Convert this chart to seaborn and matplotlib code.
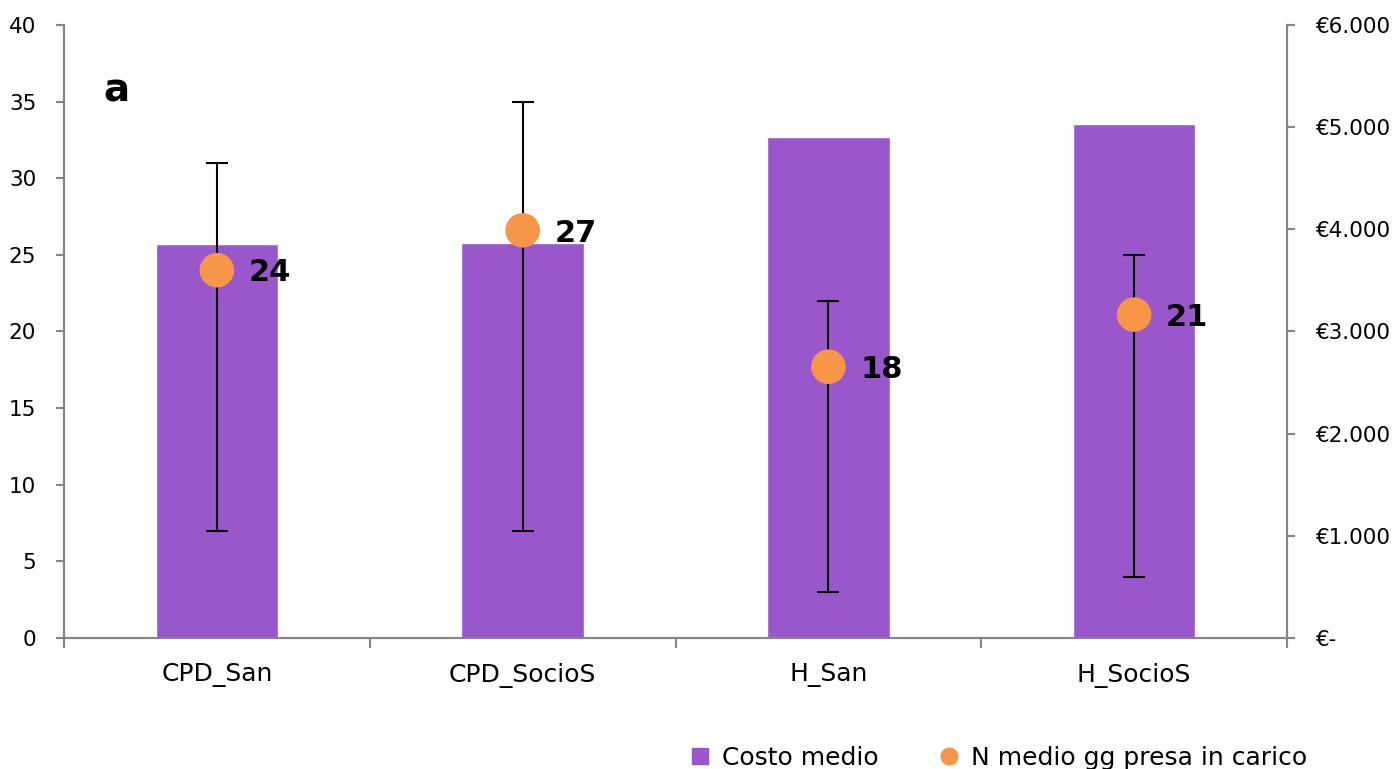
import matplotlib
matplotlib.use("Agg")
import matplotlib.pyplot as plt
import matplotlib.ticker as mticker
from matplotlib.lines import Line2D
import seaborn as sns
import numpy as np
import pandas as pd

categories = ["CPD_San", "CPD_SocioS", "H_San", "H_SocioS"]
costo_medio = [3860, 3870, 4900, 5030]
giorni_medi = [24.0, 26.6, 17.7, 21.1]
giorni_label = ["24", "27", "18", "21"]
giorni_min = [7, 7, 3, 4]
giorni_max = [31, 35, 22, 25]

PURPLE = "#9A57CC"
ORANGE = "#F79646"
GREY = "#868686"

sns.set_style("white")
plt.rcParams["font.family"] = ["DejaVu Sans"]
plt.rcParams["text.color"] = "black"
plt.rcParams["xtick.labelcolor"] = "black"
plt.rcParams["ytick.labelcolor"] = "black"

df = pd.DataFrame({"cat": categories, "costo": costo_medio})

fig = plt.figure(figsize=(13.97, 7.69), dpi=100)
ax = fig.add_axes([0.0458, 0.1704, 0.8755, 0.7971])

sns.barplot(data=df, x="cat", y="costo", color=PURPLE, width=0.4,
            saturation=1, ax=ax)
ax.set_xlabel("")
ax.set_ylabel("")

ax2 = ax.twinx()
# cost axis on the right, days axis on the left
ax.yaxis.tick_right()
ax2.yaxis.tick_left()

ax.set_ylim(0, 6000)
ax.set_xlim(-0.5, 3.5)
ax.yaxis.set_major_locator(mticker.MultipleLocator(1000))
ax.yaxis.set_major_formatter(mticker.FuncFormatter(
    lambda v, p: "€-" if v == 0 else "€{:,.0f}".format(v).replace(",", ".")))

x = np.arange(len(categories))
days = np.array(giorni_medi)
yerr = [days - np.array(giorni_min), np.array(giorni_max) - days]
ax2.errorbar(x, days, yerr=yerr, fmt="none", ecolor="black",
             elinewidth=1.5, capsize=8, capthick=1.5, zorder=2)
sns.scatterplot(x=x, y=days, ax=ax2, color=ORANGE, s=620,
                edgecolor="none", zorder=3, legend=False)
for xi, yi, lab in zip(x, days, giorni_label):
    ax2.annotate(lab, (xi, yi), xytext=(23, -2), textcoords="offset points",
                 ha="left", va="center", fontsize=22, fontweight="bold",
                 color="black")
ax2.set_ylim(0, 40)
ax2.yaxis.set_major_locator(mticker.MultipleLocator(5))
ax2.set_xlim(-0.5, 3.5)

# category ticks between groups
ax.set_xticks(x)
ax.set_xticklabels(categories, fontsize=18)
ax.set_xticks(np.arange(-0.5, 4.0, 1.0), minor=True)
ax.tick_params(axis="x", which="major", length=0, pad=18)
ax.tick_params(axis="x", which="minor", length=7, width=1.5, color=GREY,
               direction="out", bottom=True)
ax.tick_params(axis="y", which="major", length=6, width=1.5, color=GREY,
               direction="out", labelsize=15.5, pad=14, right=True, left=False,
               labelright=True, labelleft=False)
ax2.tick_params(axis="y", which="major", length=6, width=1.5, color=GREY,
                direction="out", labelsize=15.5, pad=14, left=True, right=False,
                labelleft=True, labelright=False)

for a in (ax, ax2):
    a.spines["top"].set_visible(False)
    for s in ("left", "right", "bottom"):
        a.spines[s].set_color(GREY)
        a.spines[s].set_linewidth(1.5)

ax2.text(0.032, 0.893, "a", transform=ax2.transAxes, fontsize=28,
         fontweight="bold", va="center", ha="left", color="black")

handles = [
    Line2D([], [], marker="s", linestyle="none", color=PURPLE, markersize=12),
    Line2D([], [], marker="o", linestyle="none", color=ORANGE, markersize=12),
]
fig.legend(handles, ["Costo medio", "N medio gg presa in carico"],
           loc="lower right", bbox_to_anchor=(0.952, -0.03), ncol=2,
           frameon=False, fontsize=18, handletextpad=-0.1, columnspacing=1.8)

fig.savefig("out.png", dpi=100)
